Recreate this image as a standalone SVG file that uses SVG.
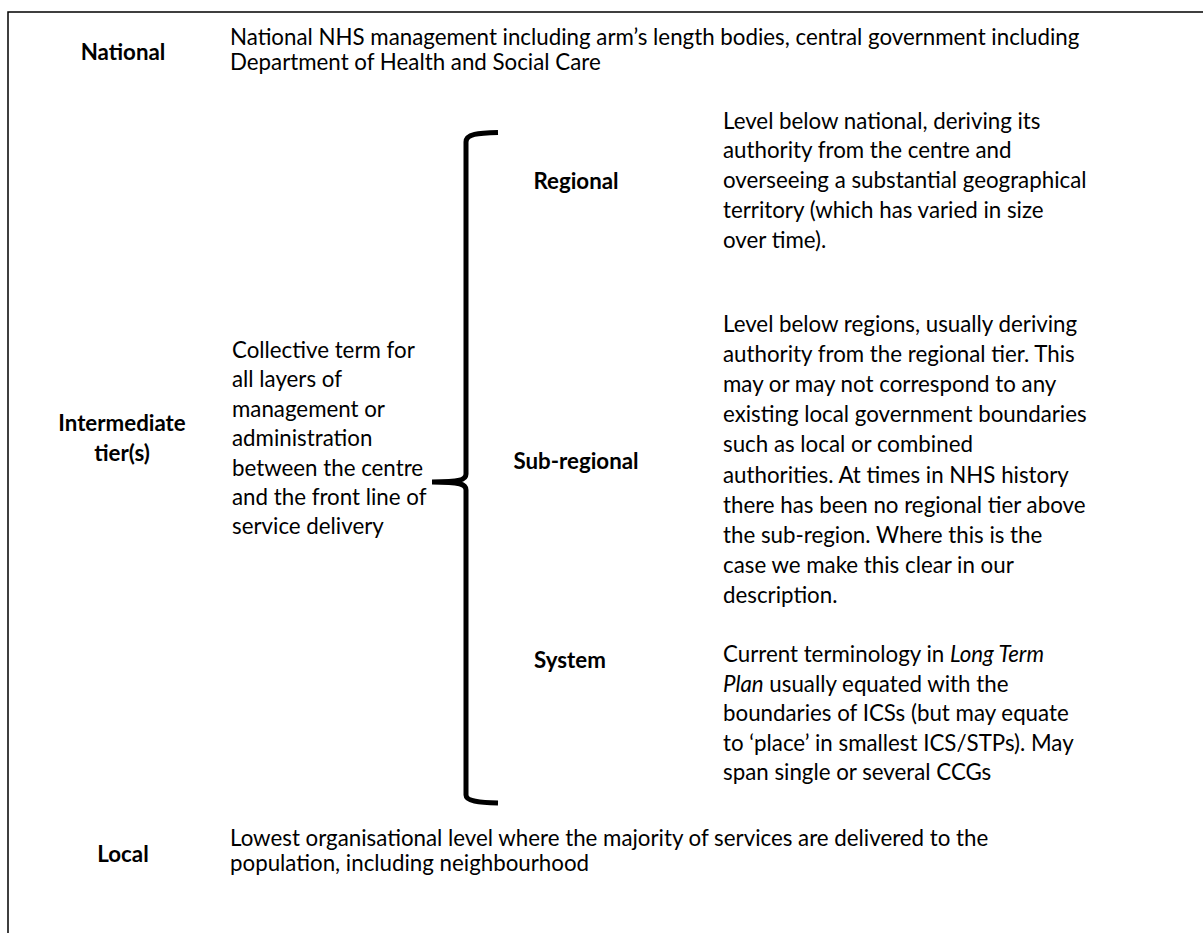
<svg xmlns="http://www.w3.org/2000/svg" width="1203" height="933" viewBox="0 0 1203 933">
<style>
text{font-family:Lato,"Noto Sans",sans-serif;font-size:22.3px;fill:#000}
.b{font-weight:bold;text-anchor:middle}
.i{font-style:italic}
.brace{fill:none;stroke:#000;stroke-width:5;stroke-linecap:butt}
</style>
<rect x="8" y="12" width="1300" height="1000" fill="#fff" stroke="#000" stroke-width="1.5"/>
<g id="national">
<text class="b" x="123" y="60">National</text>
<text x="230" y="45">National NHS management including arm’s length bodies, central government including</text>
<text x="230" y="70">Department of Health and Social Care</text>
</g>
<g id="intermediate">
<text class="b" x="122" y="431">Intermediate</text>
<text class="b" x="122" y="461">tier(s)</text>
<text x="232" y="358">Collective term for</text>
<text x="232" y="387.4">all layers of</text>
<text x="232" y="416.8">management or</text>
<text x="232" y="446.2">administration</text>
<text x="232" y="475.6">between the centre</text>
<text x="232" y="505">and the front line of</text>
<text x="232" y="534.4">service delivery</text>
</g>
<g id="regional">
<text class="b" x="576" y="189">Regional</text>
<text x="723" y="128.5">Level below national, deriving its</text>
<text x="723" y="158.3">authority from the centre and</text>
<text x="723" y="188.1">overseeing a substantial geographical</text>
<text x="723" y="217.9">territory (which has varied in size</text>
<text x="723" y="247.7">over time).</text>
</g>
<g id="subregional">
<text class="b" x="576" y="469">Sub-regional</text>
<text x="723" y="331.5">Level below regions, usually deriving</text>
<text x="723" y="361.7">authority from the regional tier. This</text>
<text x="723" y="391.9">may or may not correspond to any</text>
<text x="723" y="422.1">existing local government boundaries</text>
<text x="723" y="452.3">such as local or combined</text>
<text x="723" y="482.5">authorities. At times in NHS history</text>
<text x="723" y="512.7">there has been no regional tier above</text>
<text x="723" y="542.9">the sub-region. Where this is the</text>
<text x="723" y="573.1">case we make this clear in our</text>
<text x="723" y="603.3">description.</text>
</g>
<g id="system">
<text class="b" x="570" y="668">System</text>
<text x="723" y="662">Current terminology in <tspan class="i">Long Term</tspan></text>
<text x="723" y="691.5"><tspan class="i">Plan</tspan> usually equated with the</text>
<text x="723" y="721">boundaries of ICSs (but may equate</text>
<text x="723" y="750.5">to ‘place’ in smallest ICS/STPs). May</text>
<text x="723" y="780">span single or several CCGs</text>
</g>
<g id="local">
<text class="b" x="123" y="862">Local</text>
<text x="230" y="846">Lowest organisational level where the majority of services are delivered to the</text>
<text x="230" y="871">population, including neighbourhood</text>
</g>
<g id="connectors">
<path class="brace" d="M498,132.5 C478,133 466,134 466,142 L466,474 C466,480 460,482 432,482 C460,482 466,484 466,490 L466,795 C466,801 478,802.5 498,803"/>
</g>
</svg>
